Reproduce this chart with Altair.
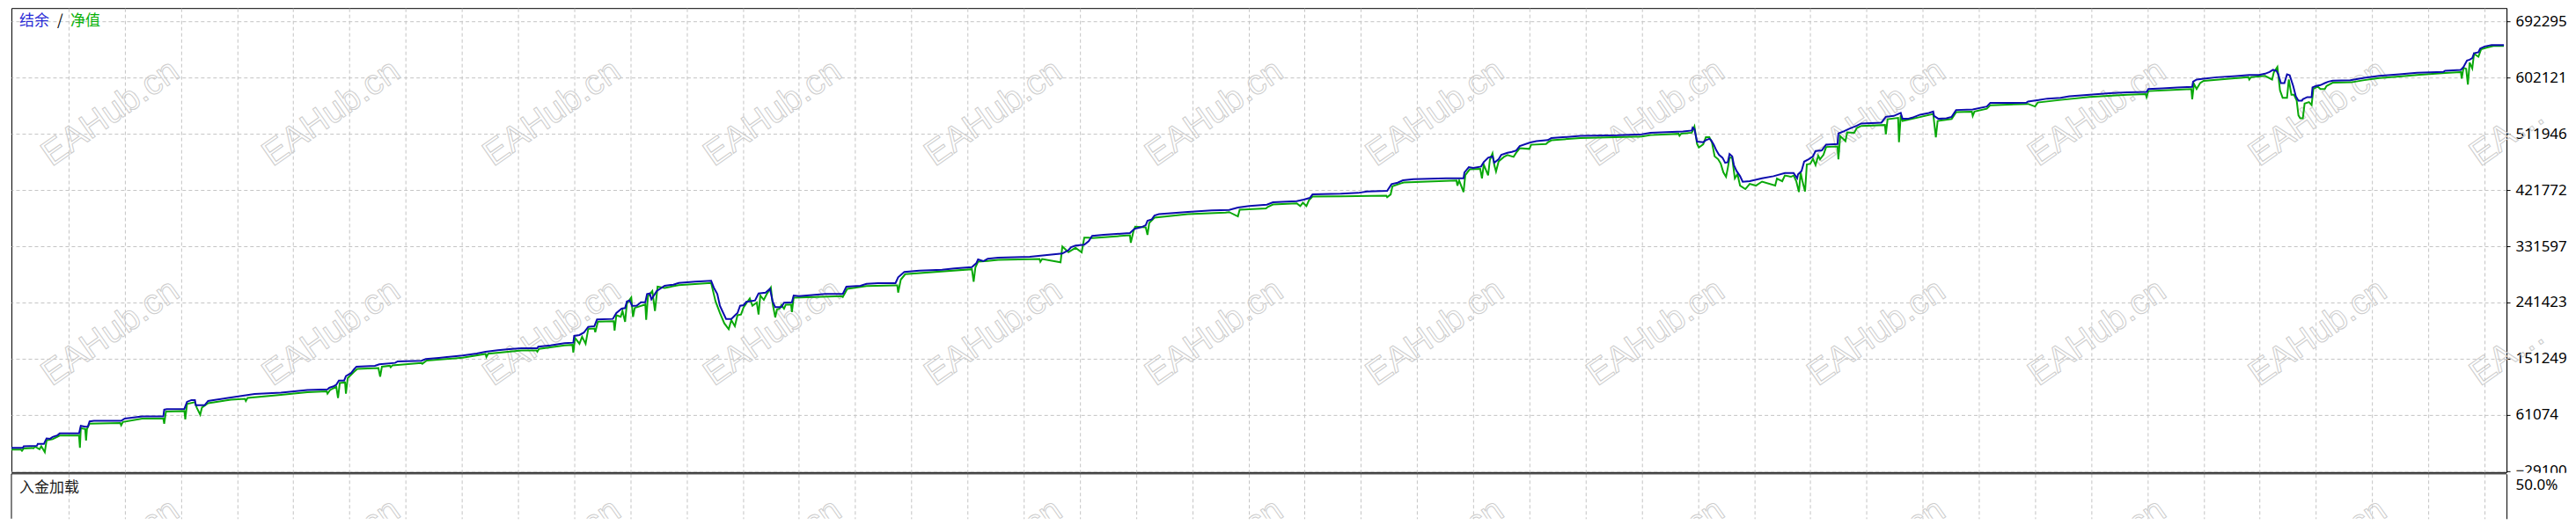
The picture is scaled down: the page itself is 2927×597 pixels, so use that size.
"""MT4 tester report: balance / equity curve with the deposit-load strip below."""

import altair as alt
import pandas as pd

# balance curve (blue): trade number -> account value
BAL_TRADE = [
    3, 16, 17, 32, 33, 40, 41, 43, 47, 50, 55, 58, 80, 82, 87, 90, 92, 97, 128, 132,
    140, 152, 176, 177, 180, 200, 203, 208, 212, 213, 223, 227, 233, 253, 280, 310, 340, 363, 365, 370,
    373, 376, 382, 384, 387, 390, 393, 396, 417, 422, 440, 443, 470, 475, 490, 517, 533, 543, 557, 570,
    584, 602, 603, 617, 633, 643, 644, 650, 655, 660, 667, 670, 688, 692, 698, 702, 704, 707, 710, 715,
    720, 725, 727, 730, 732, 738, 747, 757, 763, 782, 800, 803, 807, 810, 813, 817, 823, 828, 830, 833,
    837, 840, 850, 854, 862, 867, 870, 873, 880, 883, 892, 894, 900, 930, 950, 954, 970, 977, 990, 1010,
    1013, 1020, 1037, 1063, 1077, 1097, 1102, 1104, 1110, 1115, 1127, 1163, 1190, 1200, 1207, 1210, 1215, 1225, 1230, 1234,
    1247, 1277, 1282, 1290, 1295, 1297, 1302, 1305, 1310, 1343, 1370, 1390, 1400, 1413, 1433, 1440, 1467, 1475, 1482, 1485,
    1517, 1537, 1547, 1570, 1575, 1582, 1588, 1600, 1637, 1657, 1658, 1663, 1668, 1677, 1680, 1685, 1690, 1692, 1697, 1700,
    1707, 1712, 1717, 1721, 1733, 1740, 1753, 1757, 1770, 1790, 1833, 1860, 1870, 1907, 1917, 1918, 1920, 1923, 1930, 1933,
    1937, 1939, 1942, 1945, 1948, 1952, 1955, 1958, 1960, 1963, 1965, 1968, 1972, 1975, 1983, 1997, 2010, 2023, 2033, 2037,
    2038, 2042, 2045, 2050, 2055, 2058, 2065, 2070, 2083, 2084, 2090, 2097, 2105, 2110, 2133, 2138, 2147, 2155, 2157, 2163,
    2168, 2177, 2187, 2192, 2193, 2198, 2207, 2213, 2218, 2237, 2253, 2257, 2270, 2298, 2300, 2312, 2322, 2337, 2347, 2370,
    2393, 2413, 2435, 2437, 2453, 2470, 2487, 2488, 2492, 2500, 2515, 2537, 2552, 2563, 2570, 2575, 2579, 2583, 2585, 2588,
    2592, 2595, 2598, 2602, 2605, 2608, 2612, 2613, 2618, 2623, 2624, 2628, 2633, 2638, 2642, 2647, 2667, 2683, 2700, 2723,
    2743, 2773, 2775, 2793, 2796, 2800, 2803, 2806, 2808, 2813, 2815, 2820, 2828, 2842,
]
BAL_VALUE = [
    8500, 8500, 10800, 11700, 14600, 14600, 17800, 23400, 23000, 25800, 28200, 31500, 31500, 43700, 42300, 42300, 50800, 51600, 51600, 55400,
    56800, 58700, 58700, 69500, 70500, 70900, 82200, 85000, 85000, 76600, 76600, 83600, 85000, 89200, 94900, 97000, 101200, 102300, 104700, 107100,
    109400, 116400, 116400, 123500, 125900, 128300, 133900, 138600, 140000, 142400, 144600, 147000, 148000, 150800, 152600, 156500, 159700, 162500, 164900, 166700,
    168100, 168100, 170500, 172800, 176200, 177000, 187900, 189300, 193100, 202400, 203400, 214200, 215100, 224500, 231600, 232500, 243200, 244700, 236200, 236200,
    241800, 241800, 255100, 255900, 246600, 259700, 268200, 270000, 272800, 274800, 276200, 265400, 255100, 236200, 226900, 215100, 215100, 222100, 224500, 236200,
    237200, 242400, 244700, 255900, 257300, 263500, 243200, 233900, 233900, 241000, 241800, 252700, 251700, 255100, 255100, 266800, 268200, 271400, 272400, 272400,
    281900, 290300, 292600, 294000, 295900, 298200, 304400, 310500, 307600, 311400, 313300, 314700, 318500, 319900, 325500, 330200, 332600, 334000, 339600, 348100,
    349900, 352700, 359300, 362200, 365400, 372500, 374800, 380900, 383000, 386500, 388900, 389800, 393600, 396000, 398200, 402000, 403900, 406300, 409100, 414700,
    415700, 417100, 419400, 420400, 431200, 433500, 437300, 439100, 440500, 440500, 449900, 458400, 457000, 459400, 466400, 473500, 475700, 465400, 471100, 478100,
    481400, 482800, 485200, 492200, 497900, 500200, 501700, 504900, 506300, 508700, 509500, 511000, 513400, 515700, 517200, 521800, 519000, 499300, 498300, 501700,
    503900, 501700, 494600, 485200, 478100, 473500, 465400, 466400, 479500, 475700, 461600, 452300, 443900, 434900, 435900, 440500, 443900, 449000, 449000, 440500,
    446700, 452300, 467300, 471100, 475700, 484200, 485200, 494600, 495500, 512400, 515700, 520400, 525000, 528400, 529800, 539100, 540500, 545300, 535900, 535900,
    537700, 542500, 545300, 547600, 540500, 535900, 536900, 539100, 550000, 551000, 555600, 561300, 561300, 561700, 563700, 565900, 568300, 569700, 572100, 574400,
    576800, 578200, 579200, 583800, 584800, 586200, 587000, 595500, 598900, 600300, 602500, 604500, 606300, 606300, 608200, 611000, 614400, 612700, 607300, 593200,
    593200, 607300, 605900, 588500, 572100, 565100, 565100, 567300, 570700, 570700, 586200, 588500, 589900, 593200, 595500, 596900, 597900, 601700, 604900, 607300,
    609600, 611000, 613000, 614400, 619000, 629300, 630700, 633100, 641100, 642600, 648600, 651900, 654300, 654300,
]

# equity curve (green), with its floating-loss spikes
EQ_TRADE = [
    3, 14, 15, 17, 27, 28, 30, 35, 37, 41, 43, 50, 58, 80, 81, 82, 87, 88, 89, 92,
    127, 128, 130, 152, 176, 177, 179, 200, 201, 203, 212, 214, 218, 220, 227, 253, 269, 270, 272, 310,
    340, 362, 363, 366, 373, 375, 377, 383, 384, 386, 393, 397, 421, 423, 425, 434, 435, 437, 470, 471,
    476, 517, 543, 544, 546, 584, 601, 602, 604, 633, 642, 643, 645, 650, 653, 657, 660, 667, 668, 671,
    689, 690, 692, 697, 699, 702, 704, 709, 711, 713, 725, 726, 728, 733, 736, 739, 747, 763, 800, 805,
    810, 815, 820, 823, 827, 830, 834, 837, 844, 847, 852, 854, 856, 860, 863, 868, 870, 873, 875, 878,
    880, 883, 885, 891, 892, 894, 949, 950, 955, 977, 1012, 1013, 1016, 1021, 1097, 1099, 1101, 1104, 1115, 1127,
    1174, 1175, 1177, 1198, 1200, 1207, 1215, 1222, 1225, 1230, 1234, 1277, 1278, 1281, 1283, 1295, 1297, 1299, 1305, 1343,
    1386, 1390, 1400, 1402, 1432, 1434, 1440, 1467, 1471, 1474, 1478, 1481, 1485, 1569, 1570, 1574, 1576, 1586, 1589, 1649,
    1650, 1652, 1657, 1659, 1664, 1676, 1678, 1680, 1685, 1687, 1690, 1692, 1694, 1697, 1703, 1707, 1714, 1717, 1721, 1732,
    1734, 1751, 1753, 1757, 1790, 1860, 1870, 1902, 1903, 1905, 1917, 1920, 1923, 1925, 1930, 1933, 1937, 1940, 1943, 1947,
    1950, 1953, 1956, 1958, 1960, 1963, 1966, 1969, 1972, 1978, 1983, 1990, 1997, 2012, 2014, 2020, 2023, 2030, 2033, 2036,
    2039, 2041, 2043, 2046, 2048, 2052, 2055, 2058, 2061, 2063, 2067, 2070, 2083, 2084, 2086, 2092, 2094, 2102, 2105, 2110,
    2137, 2138, 2140, 2152, 2153, 2155, 2157, 2177, 2192, 2195, 2197, 2213, 2218, 2236, 2237, 2239, 2253, 2257, 2300, 2308,
    2311, 2337, 2370, 2413, 2434, 2435, 2437, 2470, 2486, 2487, 2489, 2492, 2496, 2500, 2551, 2552, 2554, 2570, 2578, 2580,
    2584, 2587, 2590, 2595, 2597, 2600, 2603, 2606, 2608, 2610, 2613, 2615, 2620, 2623, 2625, 2630, 2633, 2638, 2640, 2647,
    2668, 2683, 2700, 2723, 2743, 2775, 2793, 2794, 2796, 2799, 2801, 2803, 2806, 2808, 2813, 2816, 2822, 2830, 2842,
]
EQ_VALUE = [
    5400, 5400, 3700, 7500, 8200, 7500, 10300, 6100, 11000, 1500, 20200, 22300, 28000, 28000, 8500, 39900, 38500, 20200, 38500, 47300,
    48100, 44600, 49800, 55100, 55100, 47000, 66700, 67400, 54000, 78700, 81500, 73000, 61500, 73000, 80100, 85700, 87100, 83600, 88500, 93500,
    97700, 99100, 95300, 101200, 106200, 88300, 112500, 113200, 95300, 120200, 130100, 135000, 136400, 122600, 138600, 140000, 137600, 140700, 144500, 143200,
    148400, 152900, 159000, 154100, 159300, 164600, 164600, 162500, 167000, 172700, 173500, 161100, 184400, 175200, 186500, 175200, 198900, 199800, 193900, 210700,
    211500, 196300, 221000, 218400, 228000, 210400, 239700, 249400, 218400, 232700, 238300, 213700, 251300, 259700, 227700, 266800, 264700, 269300, 272700, 243200,
    224500, 208000, 198700, 213200, 203400, 221000, 222100, 233700, 248000, 236200, 241400, 222100, 252700, 245600, 254100, 265400, 240000, 217500, 230400, 231600,
    237200, 231600, 237900, 238300, 225900, 249200, 251600, 250300, 263300, 267900, 268900, 257300, 278000, 286800, 294700, 274800, 297800, 306900, 307900, 309800,
    311200, 306700, 311200, 305800, 331200, 322000, 329100, 321700, 345300, 345300, 344600, 349200, 337200, 355500, 363000, 361900, 349900, 368900, 377400, 383000,
    385600, 386300, 379500, 390100, 392200, 394700, 398500, 400400, 396000, 401300, 396000, 405600, 411200, 412600, 410100, 414700, 427700, 432600, 433700, 437000,
    428800, 437000, 418500, 445700, 454900, 455600, 440500, 462600, 445300, 470000, 480500, 461900, 451400, 467600, 474900, 477800, 474900, 481600, 488700, 487600,
    494300, 495500, 498100, 501400, 505200, 507400, 509800, 511900, 508700, 512200, 513600, 523600, 495700, 489800, 495000, 506300, 506300, 497900, 475700, 471100,
    464000, 449900, 442900, 457000, 473500, 473500, 440500, 447100, 428800, 423200, 431600, 428800, 435200, 428800, 440100, 435900, 445000, 442900, 445000, 435900,
    418500, 449900, 435900, 419400, 462600, 464000, 471800, 461600, 476700, 471100, 478100, 490800, 491500, 471100, 508400, 500200, 514100, 513400, 521100, 524600,
    526000, 511000, 535200, 537300, 498300, 541500, 532400, 538700, 543600, 506300, 532400, 535600, 546500, 547200, 540500, 547500, 552100, 557700, 559800, 555600,
    562000, 566200, 570800, 574600, 575600, 570700, 580300, 582700, 583500, 567300, 592000, 583800, 593200, 596800, 602800, 598900, 602800, 604700, 598900, 610600,
    619000, 581400, 569700, 569700, 598900, 574400, 574400, 565100, 541500, 536900, 536900, 560300, 562700, 558000, 583800, 587600, 583800, 583800, 588500, 593700,
    594400, 597900, 601400, 603800, 606100, 609400, 610900, 600300, 617600, 616200, 590800, 626100, 616600, 640200, 635500, 647200, 650000, 652800, 652800,
]

Y_TICKS = [-29100, 61074, 151249, 241423, 331597, 421772, 511946, 602121, 692295]
LOAD_TICKS = [50]

BLUE = "#0c0cae"
GREEN = "#0aa80a"
GRID = "#c4c4c4"
WM = "#cccccc"

W, H_TOP, H_LOW = 2837, 528, 51

x_scale = alt.Scale(domain=[3, 2845], nice=False, zero=False)
y_scale = alt.Scale(domain=[-30509, 713430], nice=False, zero=False)
load_scale = alt.Scale(domain=[0, 50], nice=False, zero=False)

x_axis = alt.Axis(
    values=list(range(68, 2845, 64)), grid=True, gridColor=GRID, gridDash=[4, 3],
    labels=False, ticks=False, domain=False, title=None,
)
y_axis = alt.Axis(
    orient="right", values=Y_TICKS, format="d", grid=True, gridColor=GRID, gridDash=[4, 3],
    tickSize=4, tickColor="#000000", domainColor="#000000", labelFont="Noto Sans",
    labelFontSize=17, labelColor="#000000", labelPadding=6, labelOverlap=False, title=None,
)
load_axis = alt.Axis(
    orient="right", values=LOAD_TICKS, labelExpr="format(datum.value, '.1f') + '%'",
    grid=False, ticks=False, domainColor="#000000", labelFont="Noto Sans", labelFontSize=17,
    labelColor="#000000", labelBaseline="top", labelOffset=5, labelPadding=10, title=None,
)

bal = pd.DataFrame({"trade": BAL_TRADE, "value": BAL_VALUE})
bal["i"] = range(len(bal))
eq = pd.DataFrame({"trade": EQ_TRADE, "value": EQ_VALUE})
eq["i"] = range(len(eq))
one = pd.DataFrame({"k": [0]})

# watermark tiling, in page pixels (lattice of 251 x 250 px)
wm_top = pd.DataFrame([{"px": 39 + 251 * i, "py": 171 + 250 * j} for j in range(2) for i in range(11)])
wm_edge = pd.DataFrame([{"px": 39 + 251 * 11, "py": 171 + 250 * j} for j in range(2)])
wm_low = pd.DataFrame([{"px": 39 + 251 * i, "py": 141} for i in range(12)])


def watermark(df, **kw):
    return alt.Chart(df).mark_text(
        text="EAHub.cn", angle=325, align="left", baseline="middle", font="Liberation Sans",
        fontSize=40, fillOpacity=0, stroke=WM, strokeWidth=1, **kw,
    ).encode(x=alt.X("px:Q", scale=None), y=alt.Y("py:Q", scale=None))


def label(text, color, x, y):
    return alt.Chart(one).mark_text(
        text=text, color=color, font="Noto Sans CJK SC", fontSize=17, align="left", baseline="top",
    ).encode(x=alt.value(x), y=alt.value(y))


def curve(df, color):
    return alt.Chart(df).mark_line(color=color, strokeWidth=2).encode(
        x=alt.X("trade:Q", scale=x_scale, axis=x_axis),
        y=alt.Y("value:Q", scale=y_scale, axis=y_axis),
        order="i:Q",
    )


top = alt.layer(
    watermark(wm_top),
    watermark(wm_edge, limit=115, ellipsis=""),
    curve(eq, GREEN),
    curve(bal, BLUE),
    label("结余", "#2b2bd6", 9, 7),
    label("/", "#000000", 52, 7),
    label("净值", "#08b008", 67, 7),
).properties(width=W, height=H_TOP, view=alt.ViewBackground(stroke="#000000", strokeWidth=1))

load_frame = pd.DataFrame({"trade": [3], "lo": [0], "hi": [50]})
low = alt.layer(
    watermark(wm_low, clip=True),
    alt.Chart(load_frame).mark_rule(color="#000000", strokeWidth=1).encode(
        x=alt.X("trade:Q", scale=x_scale, axis=x_axis),
        y=alt.Y("lo:Q", scale=load_scale, axis=load_axis),
        y2="hi:Q",
    ),
    alt.Chart(one).mark_rule(color="#000000", strokeWidth=1).encode(
        x=alt.value(0), x2=alt.value(W), y=alt.value(0)
    ),
    # hides the lower half of the last balance label, as the strip does in the terminal
    alt.Chart(one).mark_rect(color="#ffffff").encode(
        x=alt.value(W + 2), x2=alt.value(W + 70), y=alt.value(-1), y2=alt.value(5)
    ),
    label("入金加载", "#1a1a1a", 9, 8),
).properties(width=W, height=H_LOW, view=alt.ViewBackground(stroke="transparent"))

chart = alt.vconcat(top, low, spacing=2, bounds="flush").properties(padding=0, background="#ffffff")

chart.save("out.html", embed_options={"renderer": "svg", "actions": False})
